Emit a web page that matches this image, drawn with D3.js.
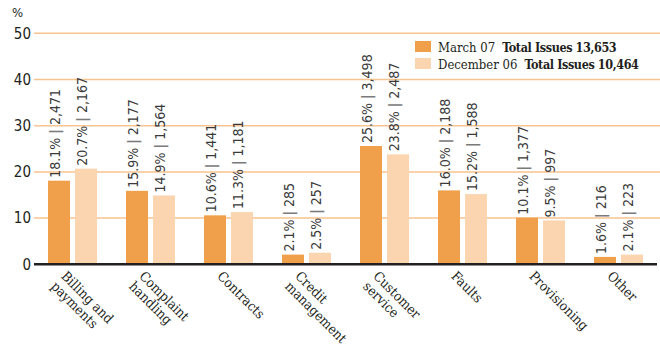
<!DOCTYPE html>
<html>
<head>
<meta charset="utf-8">
<script src="https://cdn.jsdelivr.net/npm/d3@7"></script>
<style>
  html, body { margin: 0; padding: 0; background: #fff; }
  svg { display: block; }
</style>
</head>
<body>
<svg id="chart" width="660" height="347"></svg>
<script>
// Issues by category, share of total (%) and count
const categories = [
  ["Billing and", "payments"],
  ["Complaint", "handling"],
  ["Contracts"],
  ["Credit", "management"],
  ["Customer", "service"],
  ["Faults"],
  ["Provisioning"],
  ["Other"]
];
const seriesNames = ["March 07", "December 06"];
const seriesTotals = ["13,653", "10,464"];
const march07Pct = [18.1, 15.9, 10.6, 2.1, 25.6, 16.0, 10.1, 1.6];
const march07Count = ["2,471", "2,177", "1,441", "285", "3,498", "2,188", "1,377", "216"];
const dec06Pct = [20.7, 14.9, 11.3, 2.5, 23.8, 15.2, 9.5, 2.1];
const dec06Count = ["2,167", "1,564", "1,181", "257", "2,487", "1,588", "997", "223"];
const yTicks = [0, 10, 20, 30, 40, 50];

const colors = ["#f0a04a", "#fad5b0"];
const gridColor = "#f7c391";
const inkColor = "#231f20";
const sansFont = "'DejaVu Sans Condensed', 'DejaVu Sans', sans-serif";
const serifFont = "'DejaVu Serif Condensed', 'DejaVu Serif', serif";

const svg = d3.select("#chart");
const catKeys = categories.map(c => c.join(" "));

const x0 = d3.scaleBand()
  .domain(catKeys)
  .range([33.5, 657.5])
  .paddingInner(29 / 78)
  .paddingOuter(29 / 156);

const x1 = d3.scaleBand()
  .domain(seriesNames)
  .range([0, x0.bandwidth()])
  .paddingInner(5 / 27);

const y = d3.scaleLinear().domain([0, 50]).range([264.3, 33.3]);

// gridlines
svg.append("g")
  .selectAll("line")
  .data(yTicks.filter(t => t > 0))
  .join("line")
  .attr("x1", 34).attr("x2", 660)
  .attr("y1", d => y(d)).attr("y2", d => y(d))
  .attr("stroke", gridColor)
  .attr("stroke-width", 1.5);

// y axis labels
const yAxis = d3.axisLeft(y).tickValues(yTicks).tickSize(0).tickPadding(0);
const yg = svg.append("g").attr("transform", "translate(31,0)").call(yAxis);
yg.select(".domain").remove();
yg.selectAll("text")
  .attr("font-family", sansFont)
  .attr("font-size", 15)
  .attr("fill", inkColor);

svg.append("text")
  .attr("x", 12).attr("y", 17)
  .attr("font-family", sansFont)
  .attr("font-size", 13)
  .attr("fill", inkColor)
  .text("%");

// bars and value labels
const rows = catKeys.map((k, i) => ({
  key: k,
  values: [
    { s: seriesNames[0], pct: march07Pct[i], count: march07Count[i] },
    { s: seriesNames[1], pct: dec06Pct[i], count: dec06Count[i] }
  ]
}));

const groups = svg.append("g")
  .selectAll("g")
  .data(rows)
  .join("g")
  .attr("transform", d => `translate(${x0(d.key)},0)`);

groups.selectAll("rect")
  .data(d => d.values)
  .join("rect")
  .attr("x", d => x1(d.s))
  .attr("width", x1.bandwidth())
  .attr("y", d => y(d.pct))
  .attr("height", d => y(0) - y(d.pct))
  .attr("fill", (d, i) => colors[i]);

const labels = groups.selectAll("text.value")
  .data(d => d.values)
  .join("text")
  .attr("class", "value")
  .attr("transform", d => `translate(${x1(d.s) + x1.bandwidth() / 2 + 1},${y(d.pct) - 3}) rotate(-90)`)
  .attr("font-family", sansFont)
  .attr("font-size", 14)
  .attr("fill", "#3a3a3a");
labels.append("tspan").text(d => d.pct.toFixed(1) + "% ");
labels.append("tspan").attr("fill", "#7a7a7a").attr("font-weight", "bold").text("|");
labels.append("tspan").text(d => " " + d.count);

// baseline
svg.append("line")
  .attr("x1", 34).attr("x2", 657)
  .attr("y1", y(0)).attr("y2", y(0))
  .attr("stroke", inkColor)
  .attr("stroke-width", 2.5);

// category labels, set at 45 degrees
const catLabels = svg.append("g")
  .selectAll("text")
  .data(categories)
  .join("text")
  .attr("transform", (d, i) => `translate(${x0(catKeys[i]) + x0.bandwidth() / 2 - 12},277) rotate(45)`)
  .attr("font-family", serifFont)
  .attr("font-size", 13.5)
  .attr("fill", inkColor);
catLabels.selectAll("tspan")
  .data(d => d)
  .join("tspan")
  .attr("x", 0)
  .attr("dy", (d, j) => j === 0 ? 0 : 14.5)
  .text(d => d);

// legend
const legend = svg.append("g")
  .selectAll("g")
  .data(seriesNames)
  .join("g")
  .attr("transform", (d, i) => `translate(415,${41 + i * 17})`);
legend.append("rect")
  .attr("width", 16).attr("height", 11)
  .attr("fill", (d, i) => colors[i]);
const lt = legend.append("text")
  .attr("x", 23).attr("y", 11)
  .attr("font-family", serifFont)
  .attr("font-size", 13)
  .attr("fill", inkColor);
lt.append("tspan").text(d => d);
lt.append("tspan")
  .attr("dx", 7)
  .attr("font-weight", "bold")
  .attr("font-size", 12.5)
  .attr("letter-spacing", -0.4)
  .text((d, i) => "Total Issues " + seriesTotals[i]);
</script>
</body>
</html>
